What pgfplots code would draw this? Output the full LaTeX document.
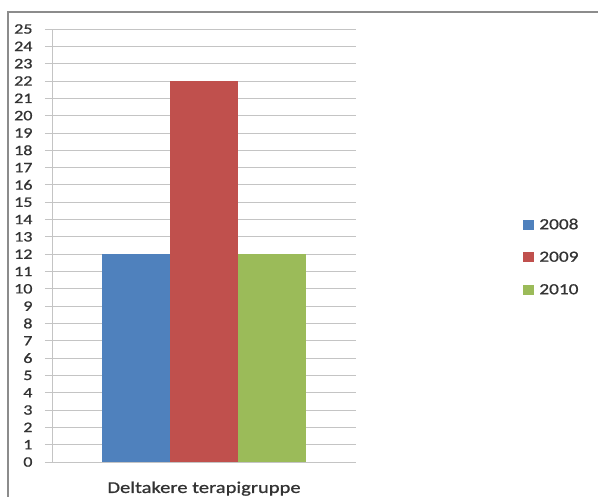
\documentclass[border=0pt]{standalone}
\usepackage{fontspec}
\setmainfont{Carlito}[FakeStretch=1.25, FakeBold=0.8]
\usepackage{pgfplots}
\pgfplotsset{compat=1.18}
\definecolor{cblue}{HTML}{4F81BD}
\definecolor{cred}{HTML}{C0504D}
\definecolor{cgreen}{HTML}{9BBB59}
\definecolor{gridc}{HTML}{C4C4C4}
\definecolor{framec}{HTML}{8C8C8C}
\begin{document}
\begin{tikzpicture}
\path[use as bounding box] (0,0) rectangle (598bp,497bp);
\draw[framec, line width=1.2bp] (8bp,-2bp) -- (8bp,485bp) -- (600bp,485bp);
\begin{axis}[
  at={(52bp,35bp)}, anchor=south west,
  scale only axis, width=304bp, height=433bp,
  xmin=-1, xmax=1, ymin=0, ymax=25,
  ybar=0pt, bar width=68bp,
  axis x line*=bottom, axis y line*=left,
  axis line style={gridc, line width=0.8bp},
  ytick={0,1,...,25},
  ymajorgrids, major grid style={gridc, line width=0.8bp},
  tick align=outside, major tick length=7bp,
  y tick style={gridc, line width=0.8bp},
  xtick={0}, xticklabels={Deltakere terapigruppe},
  x tick style={draw=none},
  extra x ticks={-1,1}, extra x tick labels={},
  extra x tick style={tick style={gridc, line width=0.8bp, draw=gridc}, major tick length=5bp},
  /pgf/number format/assume math mode=true,
  yticklabel style={font=\fontsize{14.5}{14.5}\selectfont\color[HTML]{333333}, xshift=-9bp},
  xticklabel style={font=\fontsize{16.5}{16.5}\selectfont\color[HTML]{333333}, yshift=-9bp},
  legend style={draw=none, fill=none, at={(1.54,0.473)}, anchor=west,
    font=\fontsize{15.5}{15.5}\selectfont\color[HTML]{333333}, row sep=17bp},
  legend cell align=left,
  legend image code/.code={\fill[#1] (0bp,-5bp) rectangle (11bp,5bp); \path (14bp,0bp);},
]
\addplot[fill=cblue, draw=none] coordinates {(0,12)};
\addplot[fill=cred, draw=none] coordinates {(0,22)};
\addplot[fill=cgreen, draw=none] coordinates {(0,12)};
\legend{2008,2009,2010}
\end{axis}
\end{tikzpicture}
\end{document}
